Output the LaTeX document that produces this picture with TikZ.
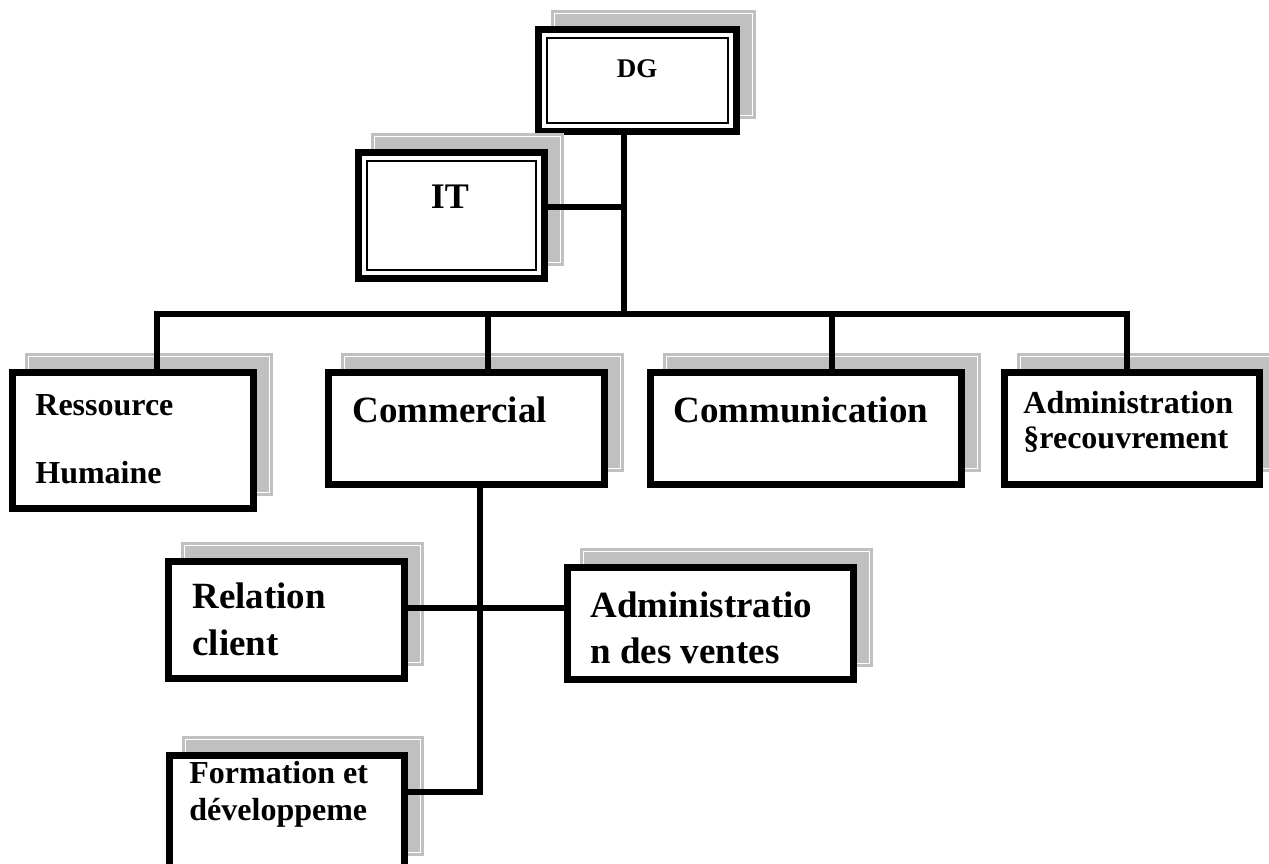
\documentclass[tikz,border=0pt]{standalone}
\usepackage{fontspec}
\setmainfont{Liberation Serif}
\usetikzlibrary{shadows}
\definecolor{shadegray}{HTML}{C0C0C0}
\newcommand{\boxtext}[1]{\begin{tabular}[t]{@{}l@{}}#1\end{tabular}}
\tikzset{
  unit/.style={draw, fill=white, line width=3.3pt, rectangle, inner sep=0pt,
    general shadow={shadow xshift=8pt, shadow yshift=8pt, draw=shadegray,
      fill=shadegray, double=white, double distance=0.5pt, line width=1.4pt}},
  link/.style={line width=3.3pt},
  inframe/.style={line width=1.3pt},
  lbl/.style={inner sep=0pt, anchor=base west}
}

\begin{document}
\begin{tikzpicture}[x=0.5pt, y=-0.5pt]
  \useasboundingbox (0,0) rectangle (1269,863);
  \clip (0,0) rectangle (1269,863);

  % boxes
  \node[unit, minimum width=99.2pt, minimum height=51.2pt] (dg) at (637.5,80.5) {};
  \node[unit, minimum width=93.2pt, minimum height=63.2pt] (it) at (451.5,215.5) {};
  \node[unit, minimum width=120.7pt, minimum height=68.2pt] (rh) at (133,440.5) {};
  \node[unit, minimum width=138.2pt, minimum height=56.2pt] (com) at (466.5,428.5) {};
  \node[unit, minimum width=155.7pt, minimum height=56.2pt] (comm) at (806,428.5) {};
  \node[unit, minimum width=127.7pt, minimum height=56.2pt] (adm) at (1132,428.5) {};
  \node[unit, minimum width=118.2pt, minimum height=58.7pt] (rel) at (286.5,620) {};
  \node[unit, minimum width=143.2pt, minimum height=56.2pt] (adv) at (710.5,623.5) {};
  \node[unit, minimum width=117.7pt, minimum height=56.7pt] (form) at (287,812) {};

  % inner frames of DG and IT
  \draw[inframe] ([shift={(6pt,6pt)}]dg.south west) rectangle ([shift={(-6pt,-6pt)}]dg.north east);
  \draw[inframe] ([shift={(6pt,6pt)}]it.south west) rectangle ([shift={(-6pt,-6pt)}]it.north east);

  % texts
  \node[lbl, anchor=base, font=\bfseries\fontsize{13.5}{16}\selectfont] (dgt) at (637,77) {DG};
  \node[lbl, anchor=base, font=\bfseries\fontsize{18}{21}\selectfont] (itt) at (450,208) {IT};
  \node[lbl, font=\bfseries\fontsize{16}{34}\selectfont] (rht) at (35,415) {\boxtext{Ressource\\Humaine}};
  \node[lbl, font=\bfseries\fontsize{18.5}{22}\selectfont] (comt) at (352,422) {Commercial};
  \node[lbl, font=\bfseries\fontsize{18.5}{22}\selectfont] (commt) at (673,422) {Communication};
  \node[lbl, font=\bfseries\fontsize{16}{17.5}\selectfont] (admt) at (1023,413) {\boxtext{Administration\\§recouvrement}};
  \node[lbl, font=\bfseries\fontsize{18.5}{23.5}\selectfont] (relt) at (192,608) {\boxtext{Relation\\client}};
  \node[lbl, font=\bfseries\fontsize{18.5}{23}\selectfont] (advt) at (590,617) {\boxtext{Administratio\\n des ventes}};
  \node[lbl, font=\bfseries\fontsize{16}{18.5}\selectfont] (formt) at (189,783) {\boxtext{Formation et\\développeme}};

  % connectors
  \coordinate (b0) at (624,314);
  \coordinate (b1) at (157,314);
  \coordinate (b2) at (488,314);
  \coordinate (b3) at (832,314);
  \coordinate (b4) at (1127,314);
  \coordinate (itj) at (624,207);
  \coordinate (c1) at (480,608);
  \coordinate (c2) at (480,792);

  \draw[link] (b0 |- dg.south) -- (b0);
  \draw[link] (itj -| it.east) -- (itj);
  \draw[link] (b1 |- rh.north) -- (b1) -- (b4) -- (b4 |- adm.north);
  \draw[link] (b2) -- (b2 |- com.north);
  \draw[link] (b3) -- (b3 |- comm.north);
  \draw[link] (c2 |- com.south) -- (c2) -- (c2 -| form.east);
  \draw[link] (c1 -| rel.east) -- (c1 -| adv.west);
\end{tikzpicture}
\end{document}
